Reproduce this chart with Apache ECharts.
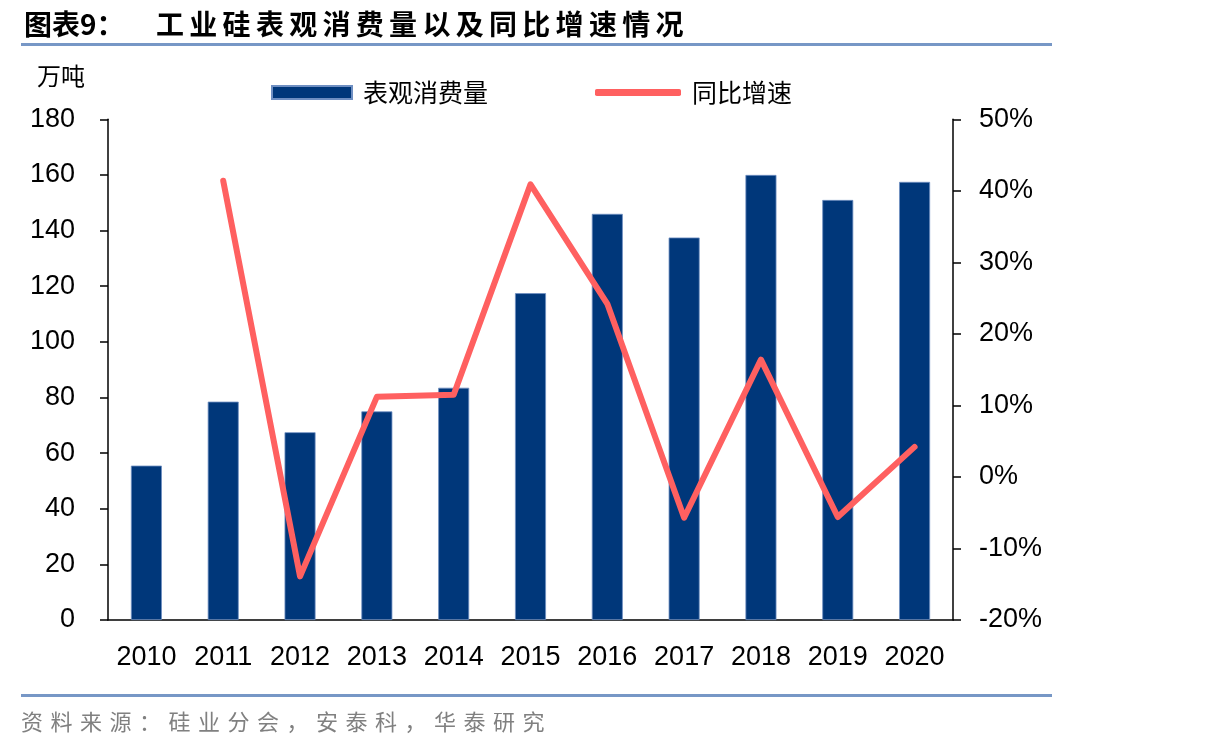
<!DOCTYPE html>
<html>
<head>
<meta charset="utf-8">
<script src="https://cdn.jsdelivr.net/npm/echarts@6/dist/echarts.min.js"></script>
<style>
  html, body { margin: 0; padding: 0; background: #fff; }
  .page { position: relative; width: 1208px; height: 751px; overflow: hidden; }
  #main { position: absolute; left: 0; top: 0; width: 1208px; height: 751px; }
  .title {
    position: absolute; top: 5px; font-family: "Noto Sans CJK SC", sans-serif;
    font-size: 28px; font-weight: bold; color: #000; line-height: 36px; white-space: nowrap;
  }
  .rule { position: absolute; left: 21px; width: 1031px; height: 3px; background: #7797c6; }
  .source {
    position: absolute; left: 21px; top: 705px; font-family: "Noto Sans CJK SC", sans-serif;
    font-size: 22px; color: #808080; letter-spacing: 7.5px; line-height: 30px; white-space: nowrap;
  }
</style>
</head>
<body>
<div class="page">
  <div id="main"></div>
  <div class="title" style="left:24px;">图表9：</div>
  <div class="title" style="left:156px; letter-spacing:5.3px;">工业硅表观消费量以及同比增速情况</div>
  <div class="rule" style="top:43px;"></div>
  <div class="rule" style="top:694px;"></div>
  <div class="source">资料来源：硅业分会，安泰科，华泰研究</div>
</div>
<script>
// 数据
const years = ["2010", "2011", "2012", "2013", "2014", "2015", "2016", "2017", "2018", "2019", "2020"];
const consumption = [55.5, 78.5, 67.5, 75, 83.5, 117.5, 146, 137.5, 160, 151, 157.5];
const growth = [null, 41.4, -13.9, 11.2, 11.5, 40.9, 24.2, -5.7, 16.4, -5.6, 4.2];

const axisFont = { fontFamily: "Liberation Sans, Arial", fontSize: 27, color: "#000" };
const axisLineStyle = { color: "#000", width: 1.5 };
const legendText = { fontFamily: "Noto Sans CJK SC", fontSize: 25, color: "#000", padding: [0, 0, 0, 6] };

var myChart = echarts.init(document.getElementById("main"));
myChart.setOption({
  animation: false,
  grid: { left: 108, right: 255, top: 119.3, bottom: 131 },
  legend: [
    {
      left: 266, top: 75,
      itemWidth: 80, itemHeight: 13,
      data: [{ name: "表观消费量", icon: "rect" }],
      textStyle: legendText
    },
    {
      left: 590, top: 75,
      itemWidth: 86, itemHeight: 7,
      data: [{ name: "同比增速", icon: "roundRect" }],
      textStyle: legendText
    }
  ],
  graphic: [
    {
      type: "text", left: 37, top: 64,
      style: { text: "万吨", font: "24px 'Noto Sans CJK SC'", fill: "#000" }
    }
  ],
  xAxis: {
    type: "category",
    data: years,
    axisLine: { lineStyle: axisLineStyle },
    axisTick: { length: 8, lineStyle: axisLineStyle },
    axisLabel: Object.assign({ margin: 24, interval: 0 }, axisFont)
  },
  yAxis: [
    {
      type: "value", min: 0, max: 180, interval: 20,
      splitLine: { show: false },
      axisLine: { show: true, lineStyle: axisLineStyle },
      axisTick: { show: true, length: 8, lineStyle: axisLineStyle },
      axisLabel: Object.assign({ margin: 33 }, axisFont)
    },
    {
      type: "value", min: -20, max: 50, interval: 10,
      splitLine: { show: false },
      axisLine: { show: true, lineStyle: axisLineStyle },
      axisTick: { show: true, length: 8, lineStyle: axisLineStyle },
      axisLabel: Object.assign({ margin: 26, formatter: "{value}%" }, axisFont)
    }
  ],
  series: [
    {
      name: "表观消费量",
      type: "bar",
      barWidth: 31,
      data: consumption,
      itemStyle: { color: "#00377a", borderColor: "#6f8fc2", borderWidth: 0.8 }
    },
    {
      name: "同比增速",
      type: "line",
      yAxisIndex: 1,
      data: growth,
      symbol: "none",
      lineStyle: { color: "#ff6060", width: 6, cap: "round", join: "round" },
      itemStyle: { color: "#ff6060" },
      z: 5
    }
  ]
});
</script>
</body>
</html>
